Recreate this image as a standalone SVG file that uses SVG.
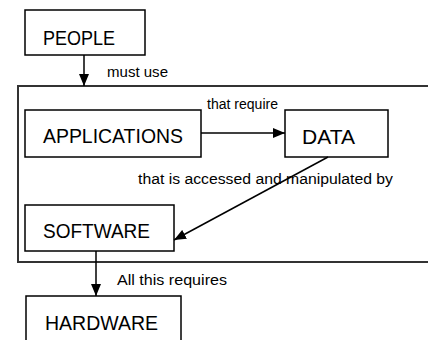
<svg xmlns="http://www.w3.org/2000/svg" width="428" height="340" viewBox="0 0 428 340">
<style>
.box{fill:#fff;stroke:#000;stroke-width:1.5}
.big{fill:none;stroke:#333;stroke-width:2}
.t{font-family:"Liberation Sans",Arial,sans-serif;font-size:21px;fill:#000}
.s{font-family:"Liberation Sans",Arial,sans-serif;font-size:14px;fill:#000}
.c{stroke:#000;stroke-width:1.5;fill:none}
</style>
<defs>
<marker id="ah" markerWidth="12" markerHeight="10" refX="12" refY="5" orient="auto" markerUnits="userSpaceOnUse">
<path d="M0,0 L12,5 L0,10 Z" fill="#000"/>
</marker>
</defs>
<rect class="big" x="18" y="86" width="420" height="176"/>
<g id="people"><rect class="box" x="25" y="10" width="120" height="45"/><text class="t" x="43" y="45" textLength="72" lengthAdjust="spacingAndGlyphs">PEOPLE</text></g>
<g id="applications"><rect class="box" x="25" y="110" width="176" height="47"/><text class="t" x="43" y="143" textLength="140" lengthAdjust="spacingAndGlyphs">APPLICATIONS</text></g>
<g id="data"><rect class="box" x="285" y="110" width="103" height="47"/><text class="t" x="302" y="144" textLength="53" lengthAdjust="spacingAndGlyphs">DATA</text></g>
<g id="software"><rect class="box" x="25" y="205" width="149" height="46"/><text class="t" x="43" y="238" textLength="107" lengthAdjust="spacingAndGlyphs">SOFTWARE</text></g>
<g id="hardware"><rect class="box" x="26" y="296" width="155" height="60"/><text class="t" x="45" y="330" textLength="113" lengthAdjust="spacingAndGlyphs">HARDWARE</text></g>
<g id="connectors">
<line class="c" x1="84" y1="55" x2="84" y2="86" marker-end="url(#ah)"/>
<line class="c" x1="201" y1="133" x2="285" y2="133" marker-end="url(#ah)"/>
<line class="c" x1="328" y1="157" x2="174" y2="240" marker-end="url(#ah)"/>
<line class="c" x1="96" y1="251" x2="96" y2="296" marker-end="url(#ah)"/>
<text class="s" x="107" y="77" font-size="15" textLength="61" lengthAdjust="spacingAndGlyphs">must use</text>
<text class="s" x="207" y="109" font-size="13" textLength="71" lengthAdjust="spacingAndGlyphs">that require</text>
<text class="s" x="138" y="184" font-size="16" textLength="255" lengthAdjust="spacingAndGlyphs">that is accessed and manipulated by</text>
<text class="s" x="117" y="285" font-size="15" textLength="110" lengthAdjust="spacingAndGlyphs">All this requires</text>
</g>
</svg>
